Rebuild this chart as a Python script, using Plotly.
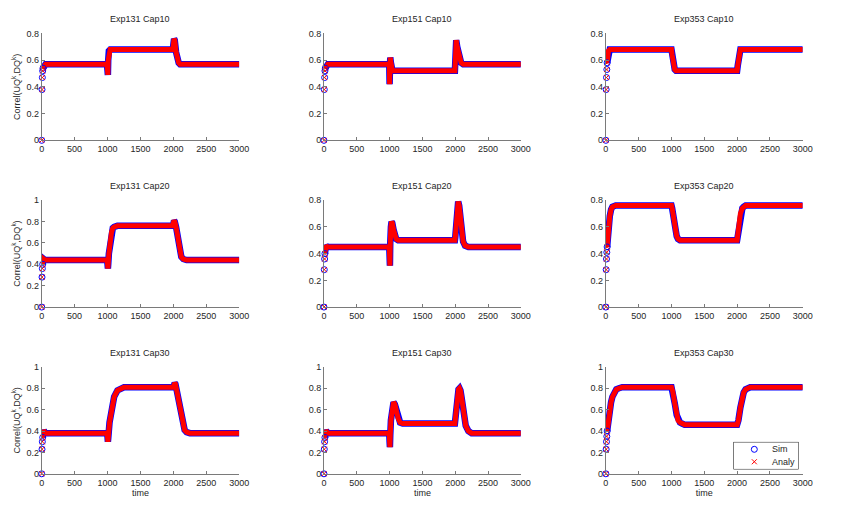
import plotly.graph_objects as go

# ---------------- data ----------------
titles = ["Exp131 Cap10", "Exp151 Cap10", "Exp353 Cap10",
          "Exp131 Cap20", "Exp151 Cap20", "Exp353 Cap20",
          "Exp131 Cap30", "Exp151 Cap30", "Exp353 Cap30"]

# early isolated samples near t = 0
early_t = [
    [0, 5, 10, 15, 20],
    [0, 5, 10, 15, 20],
    [0, 5, 10, 15, 20],
    [0, 5, 10, 15],
    [0, 5, 10, 15],
    [0, 5, 10, 15, 20],
    [0, 5, 10, 15],
    [0, 5, 10, 15],
    [0, 5, 10, 15, 20],
]
early_v = [
    [0, 0.38, 0.47, 0.52, 0.54],
    [0, 0.38, 0.47, 0.52, 0.54],
    [0, 0.38, 0.47, 0.53, 0.58],
    [0, 0.28, 0.36, 0.40],
    [0, 0.28, 0.36, 0.40],
    [0, 0.28, 0.36, 0.41, 0.45],
    [0, 0.23, 0.30, 0.34],
    [0, 0.23, 0.30, 0.34],
    [0, 0.23, 0.30, 0.35, 0.40],
]

# dense correlation trajectory (time / value)
band_t = [
    [20, 40, 60, 100, 990, 1000, 1005, 1010, 1020, 1040, 1990, 2000, 2010, 2020, 2040, 2060, 2080, 2100, 3000],
    [20, 40, 60, 100, 995, 1000, 1005, 1010, 1020, 1040, 1060, 1995, 2000, 2005, 2015, 2030, 2060, 2090, 2120, 3000],
    [20, 30, 40, 60, 1000, 1010, 1030, 1050, 1070, 2000, 2010, 2030, 2050, 2070, 3000],
    [15, 20, 30, 50, 995, 1000, 1005, 1010, 1020, 1040, 1060, 1080, 1100, 1150, 1995, 2000, 2010, 2020, 2040, 2060, 2080, 2100, 2120, 2150, 2200, 3000],
    [15, 20, 30, 50, 995, 1000, 1005, 1010, 1020, 1030, 1040, 1060, 1080, 1100, 1130, 1995, 2000, 2010, 2020, 2030, 2045, 2060, 2080, 2100, 2120, 2150, 2200, 3000],
    [20, 30, 40, 60, 80, 100, 150, 1000, 1010, 1030, 1050, 1080, 1100, 1130, 2000, 2010, 2030, 2050, 2080, 2100, 2130, 3000],
    [15, 20, 30, 50, 995, 1000, 1005, 1010, 1030, 1060, 1100, 1150, 1200, 1250, 2000, 2010, 2020, 2030, 2050, 2080, 2110, 2140, 2170, 2200, 2250, 3000],
    [15, 20, 30, 50, 995, 1000, 1005, 1010, 1020, 1040, 1060, 1080, 1100, 1130, 1160, 1200, 1995, 2000, 2010, 2030, 2050, 2065, 2080, 2100, 2130, 2160, 2200, 2250, 3000],
    [20, 30, 40, 60, 80, 100, 130, 160, 200, 250, 1000, 1020, 1050, 1080, 1100, 1130, 1160, 1200, 2000, 2020, 2050, 2080, 2100, 2130, 2160, 2200, 2250, 3000],
]
band_v = [
    [0.54, 0.56, 0.57, 0.57, 0.57, 0.52, 0.49, 0.60, 0.67, 0.68, 0.68, 0.72, 0.76, 0.75, 0.66, 0.60, 0.58, 0.57, 0.57],
    [0.54, 0.56, 0.57, 0.57, 0.57, 0.42, 0.60, 0.62, 0.58, 0.53, 0.52, 0.52, 0.62, 0.75, 0.75, 0.70, 0.62, 0.58, 0.57, 0.57],
    [0.58, 0.64, 0.67, 0.68, 0.68, 0.64, 0.56, 0.53, 0.52, 0.52, 0.56, 0.65, 0.68, 0.68, 0.68],
    [0.40, 0.44, 0.45, 0.44, 0.44, 0.40, 0.36, 0.40, 0.50, 0.62, 0.70, 0.74, 0.75, 0.76, 0.76, 0.79, 0.81, 0.80, 0.75, 0.66, 0.57, 0.50, 0.47, 0.45, 0.44, 0.44],
    [0.40, 0.45, 0.46, 0.45, 0.45, 0.38, 0.31, 0.48, 0.60, 0.64, 0.63, 0.58, 0.54, 0.51, 0.50, 0.50, 0.52, 0.62, 0.72, 0.77, 0.79, 0.76, 0.66, 0.55, 0.49, 0.46, 0.45, 0.45],
    [0.45, 0.53, 0.60, 0.68, 0.73, 0.75, 0.76, 0.76, 0.74, 0.66, 0.58, 0.53, 0.51, 0.50, 0.50, 0.54, 0.63, 0.70, 0.74, 0.75, 0.76, 0.76],
    [0.34, 0.40, 0.41, 0.38, 0.38, 0.34, 0.30, 0.33, 0.48, 0.62, 0.72, 0.78, 0.80, 0.81, 0.81, 0.83, 0.85, 0.84, 0.78, 0.68, 0.56, 0.46, 0.41, 0.39, 0.38, 0.38],
    [0.34, 0.40, 0.41, 0.38, 0.38, 0.30, 0.25, 0.36, 0.50, 0.62, 0.67, 0.65, 0.59, 0.52, 0.48, 0.47, 0.47, 0.50, 0.58, 0.72, 0.79, 0.80, 0.78, 0.70, 0.56, 0.45, 0.40, 0.38, 0.38],
    [0.40, 0.46, 0.52, 0.60, 0.67, 0.72, 0.76, 0.79, 0.80, 0.81, 0.81, 0.77, 0.66, 0.55, 0.50, 0.48, 0.47, 0.46, 0.46, 0.50, 0.62, 0.72, 0.76, 0.79, 0.80, 0.81, 0.81, 0.81],
]

y_max = [0.8, 0.8, 0.8, 1.0, 0.8, 0.8, 1.0, 1.0, 1.0]
x_ticks = [0, 500, 1000, 1500, 2000, 2500, 3000]
legend_names = ["Sim", "Analy"]

# ---------------- layout geometry ----------------
W, H = 841, 520
col_px = [(39.3, 240.0), (326.0, 526.0), (612.3, 812.3)]
row_px = [(29.0, 138.0), (199.0, 308.0), (369.0, 478.0)]
leg_px = (742.0, 446.0, 808.0, 473.0)  # x0, y0, x1, y1 (top-left origin)

BLUE = "#0000ff"
RED = "#ff0000"
AX = "#7a7a7a"
TXT = "#262626"
FONT = "Liberation Sans, Arial, sans-serif"

fig = go.Figure()
layout = {}
annotations = []

for i in range(9):
    r, c = divmod(i, 3)
    n = i + 1
    xa = "x" if n == 1 else f"x{n}"
    ya = "y" if n == 1 else f"y{n}"
    xd = [col_px[c][0] / W, col_px[c][1] / W]
    yd = [1 - row_px[r][1] / H, 1 - row_px[r][0] / H]

    # Sim band (blue), then Analy band (red) on top
    fig.add_trace(go.Scatter(x=band_t[i], y=band_v[i], mode="lines", xaxis=xa, yaxis=ya,
                             line=dict(color=BLUE, width=6.5), showlegend=False,
                             cliponaxis=False, hoverinfo="skip"))
    fig.add_trace(go.Scatter(x=band_t[i], y=band_v[i], mode="lines", xaxis=xa, yaxis=ya,
                             line=dict(color=RED, width=5), showlegend=False,
                             cliponaxis=False, hoverinfo="skip"))
    # isolated early samples
    fig.add_trace(go.Scatter(x=early_t[i], y=early_v[i], mode="markers", xaxis=xa, yaxis=ya,
                             showlegend=False, cliponaxis=False, hoverinfo="skip",
                             marker=dict(symbol="circle-open", size=6, color=BLUE,
                                         line=dict(width=1, color=BLUE))))
    fig.add_trace(go.Scatter(x=early_t[i], y=early_v[i], mode="markers", xaxis=xa, yaxis=ya,
                             showlegend=False, cliponaxis=False, hoverinfo="skip",
                             marker=dict(symbol="x-thin", size=5, color=RED,
                                         line=dict(width=1, color=RED))))

    ymax = y_max[i]
    yt = [round(k * 0.2, 1) for k in range(int(round(ymax / 0.2)) + 1)]
    ytl = ["0" if v == 0 else ("1" if v == 1 else f"{v:g}") for v in yt]

    axcommon = dict(showline=True, linecolor=AX, linewidth=1, ticks="inside", ticklen=3,
                    tickcolor=AX, showgrid=False, zeroline=False,
                    tickfont=dict(family=FONT, size=9, color=TXT))
    xdef = dict(domain=xd, anchor=ya, range=[0, 3000], tickvals=x_ticks,
                ticktext=[str(v) for v in x_ticks], **axcommon)
    if r == 2:
        xdef["title"] = dict(text="time", font=dict(family=FONT, size=9, color=TXT), standoff=2)
    ydef = dict(domain=yd, anchor=xa, range=[0, ymax], tickvals=yt, ticktext=ytl, **axcommon)
    if c == 0:
        ydef["title"] = dict(text="Correl(UQ<sup>k</sup>,DQ<sup>k</sup>)",
                             font=dict(family=FONT, size=9, color=TXT), standoff=4)
    layout["xaxis" if n == 1 else f"xaxis{n}"] = xdef
    layout["yaxis" if n == 1 else f"yaxis{n}"] = ydef

    annotations.append(dict(text=titles[i], x=(xd[0] + xd[1]) / 2, y=yd[1], xref="paper",
                            yref="paper", xanchor="center", yanchor="bottom", yshift=7,
                            showarrow=False, font=dict(family=FONT, size=9, color=TXT)))

# ---------------- compact legend box (MATLAB style) ----------------
lx0, ly0, lx1, ly1 = leg_px
layout["xaxis10"] = dict(domain=[lx0 / W, lx1 / W], anchor="y10", range=[0, 1], visible=False,
                         fixedrange=True)
layout["yaxis10"] = dict(domain=[1 - ly1 / H, 1 - ly0 / H], anchor="x10", range=[0, 1],
                         visible=False, fixedrange=True)
shapes = [dict(type="rect", xref="paper", yref="paper", x0=lx0 / W, x1=lx1 / W,
               y0=1 - ly1 / H, y1=1 - ly0 / H, line=dict(color="black", width=1),
               fillcolor="white", layer="below")]
fig.add_trace(go.Scatter(x=[0.32], y=[0.74], mode="markers", xaxis="x10", yaxis="y10",
                         showlegend=False, hoverinfo="skip", cliponaxis=False,
                         marker=dict(symbol="circle-open", size=6, color=BLUE,
                                     line=dict(width=1, color=BLUE))))
fig.add_trace(go.Scatter(x=[0.32], y=[0.27], mode="markers", xaxis="x10", yaxis="y10",
                         showlegend=False, hoverinfo="skip", cliponaxis=False,
                         marker=dict(symbol="x-thin", size=5, color=RED,
                                     line=dict(width=1, color=RED))))
for k, nm in enumerate(legend_names):
    annotations.append(dict(text=nm, x=(lx0 + 37) / W, y=1 - (ly0 + 7 + 13 * k) / H,
                            xref="paper", yref="paper", xanchor="left", yanchor="middle",
                            showarrow=False, font=dict(family=FONT, size=9, color=TXT)))

fig.update_layout(
    width=W, height=H, margin=dict(l=0, r=0, t=0, b=0),
    paper_bgcolor="white", plot_bgcolor="white",
    annotations=annotations, shapes=shapes, showlegend=False,
    **layout,
)

fig.write_html("out.html")
